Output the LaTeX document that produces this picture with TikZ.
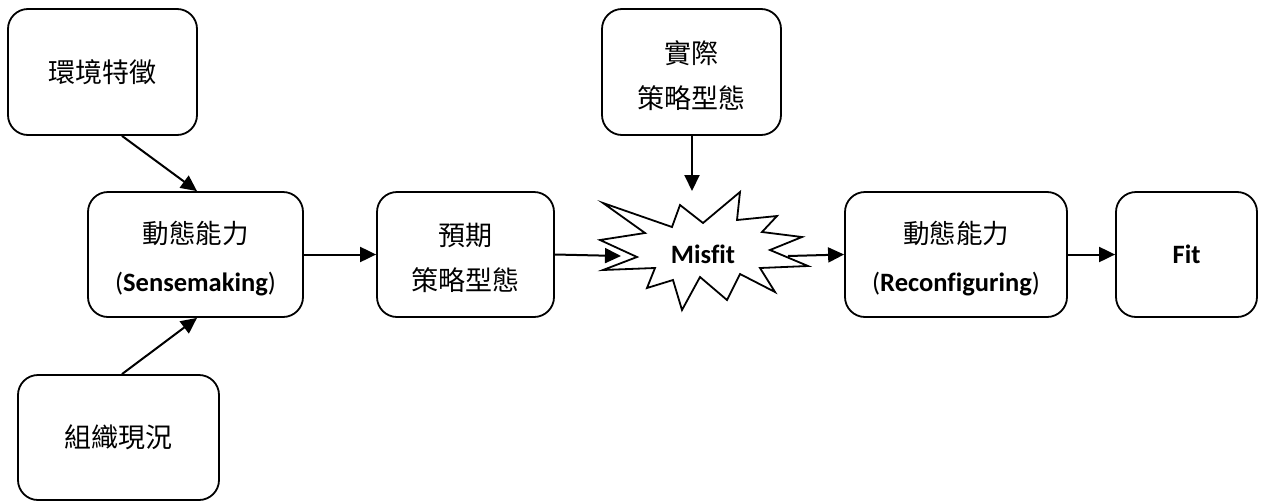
\documentclass[tikz,border=0pt]{standalone}
\usepackage{fontspec}
\setmainfont{Carlito}[Ligatures=CommonOff]
\newfontfamily\cjk{Noto Sans CJK TC}
\usetikzlibrary{arrows.meta}
\newcommand{\topstrut}{\rule{0pt}{30pt}}
\begin{document}
\begin{tikzpicture}[x=1pt,y=-1pt,
  box/.style={draw, line width=1.8pt, rounded corners=20pt, fill=white, align=center, inner sep=0pt},
  arr/.style={line width=2pt, -{Triangle[length=16pt,width=15pt]}},
  cj/.style={font=\cjk\fontsize{27}{45}\selectfont},
  lat/.style={font=\fontsize{26.5}{48}\selectfont}
]
\useasboundingbox (0,0) rectangle (1263,501);
\node[box, cj, minimum width=189pt, minimum height=126pt] (A) at (102.5,72) {環境特徵};
\node[box, lat, minimum width=215pt, minimum height=125pt] (B) at (195.5,254.5) {\topstrut{\cjk 動態能力}\\{(\textbf{Sensemaking})}};
\node[box, cj, minimum width=201pt, minimum height=125pt] (C) at (118.5,437.5) {組織現況};
\node[box, cj, minimum width=177pt, minimum height=125pt] (D) at (465.5,254.5) {\topstrut 預期\\策略型態};
\node[box, cj, minimum width=179pt, minimum height=126pt] (E) at (691.5,72) {\topstrut 實際\\策略型態};
\node[box, lat, minimum width=222pt, minimum height=125pt] (F) at (956,254.5) {\topstrut{\cjk 動態能力}\\{(\textbf{Reconfiguring})}};
\node[box, lat, minimum width=141pt, minimum height=125pt] (G) at (1186.5,254.5) {\textbf{Fit}};
% starburst
\draw[line width=1.8pt, fill=white, line join=miter]
 (740,192) -- (737,220) -- (777,216) -- (762,232) -- (802,237) -- (770,250) -- (808,266)
 -- (760,268) -- (775,292) -- (740,274) -- (727,300) -- (700,277) -- (682,310) -- (673,280)
 -- (647,288) -- (655,268) -- (603,270) -- (637,257) -- (600,240) -- (645,233) -- (603,203)
 -- (672,227) -- (680,205) -- (703,223) -- cycle;
\node[lat, inner sep=0pt] (M) at (703,254) {\textbf{Misfit}};
\coordinate (mL) at (621,256);
\coordinate (mR) at (788,256);
\coordinate (mT) at (692,191);
% connectors
\draw[arr] ([xshift=19.5pt]A.south) -- ([xshift=1.5pt]B.north);
\draw[arr] ([xshift=3.5pt]C.north) -- ([xshift=1.5pt]B.south);
\draw[arr] (B.east) -- (D.west);
\draw[arr] (D.east) -- (mL);
\draw[arr] ([xshift=0.5pt]E.south) -- (mT);
\draw[arr] (mR) -- (F.west);
\draw[arr] (F.east) -- (G.west);
\end{tikzpicture}
\end{document}
